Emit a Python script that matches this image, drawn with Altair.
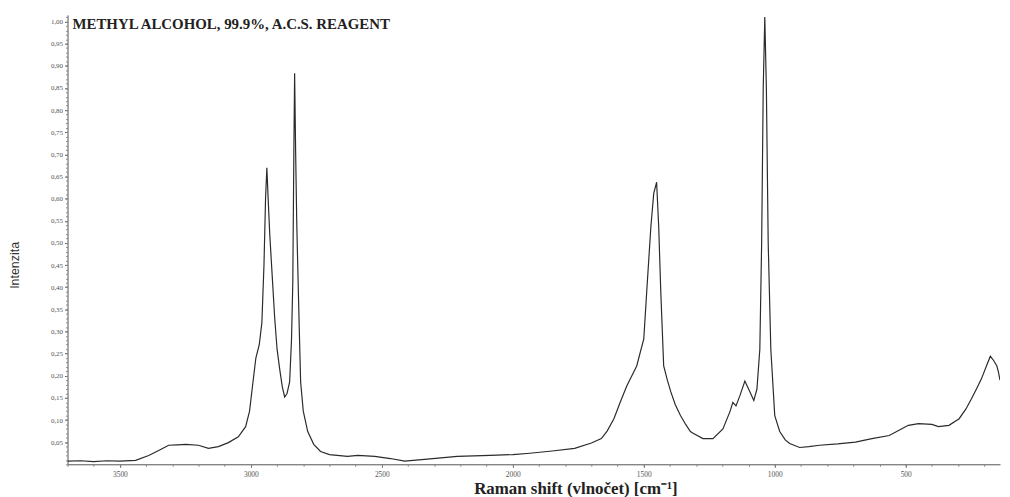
import altair as alt
import pandas as pd

wavenumber = [3700, 3650, 3600, 3550, 3500, 3440, 3390, 3352, 3314, 3280, 3249, 3200, 3162, 3124,
              3086, 3048, 3020, 3005, 2992, 2981, 2968, 2958, 2950, 2944, 2939, 2934, 2928, 2918,
              2909, 2900, 2890, 2880, 2871, 2862, 2852, 2845, 2840, 2836, 2833, 2829, 2825, 2821,
              2815, 2810, 2800, 2783, 2760, 2734, 2700, 2631, 2592, 2527, 2467, 2413, 2337, 2212,
              2087, 2000, 1935, 1850, 1764, 1700, 1662, 1640, 1614, 1590, 1565, 1527, 1500, 1489,
              1473, 1462, 1451, 1443, 1435, 1424, 1410, 1397, 1380, 1360, 1340, 1322, 1312, 1274,
              1236, 1198, 1171, 1160, 1148, 1133, 1114, 1095, 1080, 1068, 1057, 1050, 1044, 1038,
              1032, 1025, 1015, 1000, 981, 960, 943, 905, 870, 829, 760, 692, 629, 563, 513, 490,
              451, 400, 375, 335, 296, 270, 249, 230, 211, 190, 177, 165, 152, 146, 140]
intensity = [0.007, 0.008, 0.006, 0.008, 0.007, 0.009, 0.02, 0.031, 0.043, 0.044, 0.045, 0.043, 0.036, 0.04,
             0.049, 0.062, 0.085, 0.12, 0.186, 0.24, 0.27, 0.32, 0.45, 0.6, 0.67, 0.6, 0.52, 0.42,
             0.33, 0.26, 0.215, 0.175, 0.152, 0.16, 0.186, 0.28, 0.41, 0.7, 0.883, 0.7, 0.55, 0.446,
             0.3, 0.186, 0.12, 0.074, 0.045, 0.029, 0.022, 0.018, 0.02, 0.018, 0.013, 0.007, 0.011, 0.018,
             0.02, 0.022, 0.025, 0.03, 0.036, 0.048, 0.058, 0.075, 0.103, 0.14, 0.177, 0.222, 0.283, 0.388,
             0.536, 0.612, 0.637, 0.536, 0.388, 0.222, 0.19, 0.164, 0.135, 0.11, 0.09, 0.074, 0.07, 0.058,
             0.058, 0.08, 0.119, 0.14, 0.132, 0.155, 0.188, 0.164, 0.144, 0.17, 0.26, 0.5, 0.85, 1.01,
             0.85, 0.5, 0.26, 0.11, 0.074, 0.055, 0.047, 0.038, 0.04, 0.043, 0.046, 0.05, 0.058, 0.065, 0.081, 0.088,
             0.092, 0.09, 0.085, 0.088, 0.103, 0.125, 0.148, 0.17, 0.193, 0.225, 0.244, 0.235, 0.222, 0.208, 0.19]

x_major = [3500, 3000, 2500, 2000, 1500, 1000, 500]
x_minor = list(range(3700, 100, -100))
y_major = [round(0.05 * i, 2) for i in range(1, 21)]
y_minor = [round(0.01 * i, 2) for i in range(0, 102)]

df = pd.DataFrame({"w": wavenumber, "i": intensity})

xscale = alt.Scale(domain=[140, 3700], reverse=True, nice=False, zero=False)
yscale = alt.Scale(domain=[0, 1.015], nice=False)

label_font = "Liberation Serif"
axis_color = "#555555"

main = alt.Chart(df).mark_line(color="#2b2b2b", strokeWidth=1.2, clip=True).encode(
    x=alt.X("w:Q", scale=xscale,
            axis=alt.Axis(values=x_major, title="Raman shift (vlnočet) [cm⁻¹]", orient="bottom",
                          titleFont="Liberation Serif", titleFontSize=17, titleFontWeight="bold",
                          titleColor="#222222", titleX=512, titleY=16, titleAnchor="middle",
                          labelFont=label_font, labelFontSize=7.5, labelColor=axis_color,
                          labelPadding=3, tickSize=3, tickColor=axis_color,
                          domain=True, domainWidth=1, domainColor=axis_color, grid=False, format="d")),
    y=alt.Y("i:Q", scale=yscale,
            axis=alt.Axis(values=y_major, title="Intenzita", orient="left",
                          titleFont="Liberation Sans", titleFontSize=12.5, titleFontWeight="normal",
                          titleColor="#333333", titleX=-46, titleY=252, titleAngle=-90,
                          labelFont=label_font, labelFontSize=7, labelColor=axis_color,
                          labelExpr="replace(format(datum.value, '.2f'), '.', ',')",
                          labelPadding=2, tickSize=3, tickColor=axis_color,
                          domain=True, domainWidth=1, domainColor=axis_color, grid=False)),
)

minor = alt.Chart(df).mark_line(opacity=0).encode(
    x=alt.X("w:Q", scale=xscale,
            axis=alt.Axis(values=x_minor, orient="bottom", labels=False, title=None,
                          domain=False, tickSize=2, tickColor="#888888", grid=False)),
    y=alt.Y("i:Q", scale=yscale,
            axis=alt.Axis(values=y_minor, orient="left", labels=False, title=None,
                          domain=False, tickSize=2, tickColor="#888888", grid=False)),
)

chart = alt.layer(main, minor).resolve_axis(x="independent", y="independent").properties(
    width=940, height=453,
    background="white",
    autosize=alt.AutoSizeParams(type="none"),
    padding={"left": 60, "top": 5, "right": 2, "bottom": 31},
    title=alt.TitleParams("METHYL ALCOHOL, 99.9%, A.C.S. REAGENT", anchor="start",
                          font="Liberation Serif", fontSize=15, fontWeight="bold",
                          color="#222222", dx=64, dy=17, offset=0),
).configure_view(stroke=None, strokeWidth=0)

chart.save("out.html", embed_options={"renderer": "svg", "actions": False})
